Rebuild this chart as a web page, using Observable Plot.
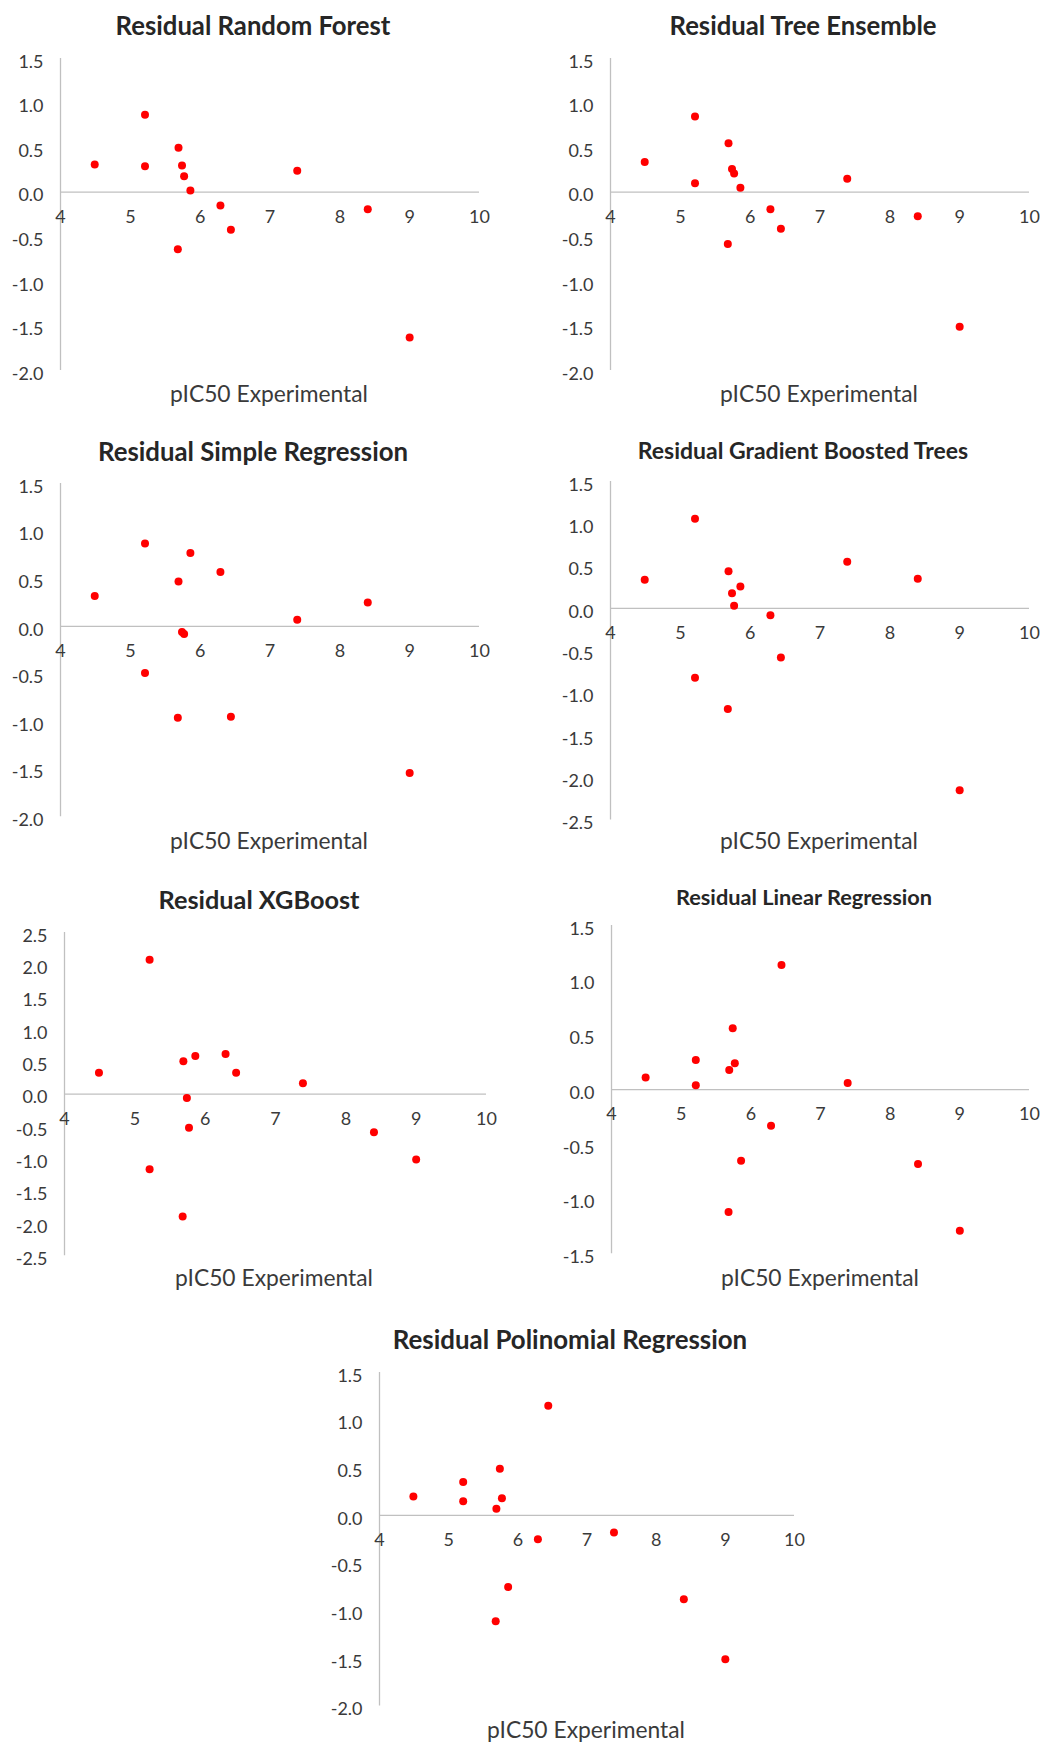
<!DOCTYPE html>
<html>
<head>
<meta charset="utf-8">
<script src="https://cdn.jsdelivr.net/npm/d3@7"></script>
<script src="https://cdn.jsdelivr.net/npm/@observablehq/plot@0.6"></script>
<style>
  html, body { margin: 0; padding: 0; background: #ffffff; }
  #chart { position: relative; width: 1041px; height: 1743px; overflow: hidden; font-family: Lato, sans-serif; background: #ffffff; }
  .title { position: absolute; font-weight: 700; color: #262626; white-space: nowrap; line-height: 1; transform: translate(-50%, -50%); }
  .xlabel { position: absolute; color: #3a3a3a; white-space: nowrap; line-height: 1; transform: translate(-50%, -50%); }
  .panel { position: absolute; }
</style>
</head>
<body>
<div id="chart"></div>
<script>
// ---------------- DATA ----------------
const pIC50 = [4.49, 5.21, 5.21, 5.68, 5.69, 5.74, 5.77, 5.86, 6.29, 6.44, 7.39, 8.40, 9.00];

const resRandomForest       = [0.31, 0.87, 0.29, -0.64, 0.50, 0.30, 0.18, 0.02, -0.15, -0.42, 0.24, -0.19, -1.63];
const resTreeEnsemble       = [0.34, 0.85, 0.10, -0.58, 0.55, 0.26, 0.21, 0.05, -0.19, -0.41, 0.15, -0.27, -1.51];
const resSimpleRegression   = [0.32, 0.87, -0.49, -0.96, 0.47, -0.06, -0.08, 0.77, 0.57, -0.95, 0.07, 0.25, -1.54];
const resGradientBoosted    = [0.34, 1.06, -0.82, -1.19, 0.44, 0.18, 0.03, 0.26, -0.08, -0.58, 0.55, 0.35, -2.15];
const resXGBoost            = [0.33, 2.08, -1.16, -1.89, 0.51, -0.06, -0.52, 0.59, 0.62, 0.33, 0.17, -0.59, -1.01];
const resLinearRegression   = [0.11, 0.27, 0.04, -1.12, 0.18, 0.56, 0.24, -0.65, -0.33, 1.14, 0.06, -0.68, -1.29];
const resPolinomialRegression = [0.20, 0.35, 0.15, -1.11, 0.07, 0.49, 0.18, -0.75, -0.25, 1.15, -0.18, -0.88, -1.51];

const titles = [
  "Residual Random Forest",
  "Residual Tree Ensemble",
  "Residual Simple Regression",
  "Residual Gradient Boosted Trees",
  "Residual XGBoost",
  "Residual Linear Regression",
  "Residual Polinomial Regression"
];
const xAxisTitle = "pIC50 Experimental";

const xTicks = [4, 5, 6, 7, 8, 9, 10];
const yTicksA = [-2, -1.5, -1, -0.5, 0, 0.5, 1, 1.5];
const yTicksB = [-2.5, -2, -1.5, -1, -0.5, 0, 0.5, 1, 1.5];
const yTicksC = [-2.5, -2, -1.5, -1, -0.5, 0, 0.5, 1, 1.5, 2, 2.5];
const yTicksD = [-1.5, -1, -0.5, 0, 0.5, 1, 1.5];

const series = [resRandomForest, resTreeEnsemble, resSimpleRegression, resGradientBoosted,
                resXGBoost, resLinearRegression, resPolinomialRegression];
const yTickSets = [yTicksA, yTicksA, yTicksA, yTicksB, yTicksC, yTicksD, yTicksA];

// ---------------- LAYOUT (pixels) ----------------
// L/R: frame left/right, Z: y of zero line, k: px per unit, title/xlab centers, tw: title ink width
const layout = [
  {L: 60,  R: 479,  Z: 191.7,  k: 89.14, title: [253, 26.2],   tw: 272.7, xlab: [269, 393]},
  {L: 610, R: 1029, Z: 191.7,  k: 89.14, title: [803, 26.2],   tw: 265.3, xlab: [819, 393]},
  {L: 60,  R: 479,  Z: 626.3,  k: 95.24, title: [253, 452],    tw: 306.7, xlab: [269, 840]},
  {L: 610, R: 1029, Z: 607.7,  k: 84.6,  title: [803, 450],    tw: 328.7, xlab: [819, 840]},
  {L: 64,  R: 486,  Z: 1094,   k: 64.67, title: [259, 899.5],  tw: 199,   xlab: [274, 1277]},
  {L: 611, R: 1029, Z: 1089.3, k: 109.4, title: [804, 897.5],  tw: 253.7, xlab: [820, 1277]},
  {L: 379, R: 794,  Z: 1515,   k: 95.3,  title: [570, 1340],   tw: 351,   xlab: [586, 1729]}
];

const FONT = "Lato";
const canvas = document.createElement("canvas");
const ctx = canvas.getContext("2d");
function inkWidth(text, weight, size) {
  ctx.font = `${weight} ${size}px ${FONT}`;
  const m = ctx.measureText(text);
  return m.actualBoundingBoxLeft + m.actualBoundingBoxRight;
}
function fit(text, weight, target) {
  return 100 * target / inkWidth(text, weight, 100);
}

const tickFont = fit("0.0", 400, 24);
const xlabFont = fit(xAxisTitle, 400, 195);

const chart = document.getElementById("chart");
const ML = 62, MR = 25, MT = 16, MB = 16;

series.forEach((ys, i) => {
  const lay = layout[i];
  const yTicks = yTickSets[i];
  const dom = [d3.min(yTicks), d3.max(yTicks)];
  const frameW = lay.R - lay.L;
  const frameH = (dom[1] - dom[0]) * lay.k;
  const T = lay.Z - dom[1] * lay.k;
  const data = pIC50.map((x, j) => ({x, y: ys[j]}));

  const svg = Plot.plot({
    width: frameW + ML + MR,
    height: frameH + MT + MB,
    marginLeft: ML, marginRight: MR, marginTop: MT, marginBottom: MB,
    x: {domain: [4, 10], axis: null},
    y: {domain: dom, axis: null},
    style: {background: "transparent", fontFamily: "Lato, sans-serif", fontSize: tickFont + "px", color: "#3a3a3a", overflow: "visible"},
    marks: [
      Plot.ruleX([4], {stroke: "#c0c0c0", strokeWidth: 1.3}),
      Plot.ruleY([0], {stroke: "#c0c0c0", strokeWidth: 1.3}),
      Plot.text(yTicks, {x: () => 4, y: d => d, dx: -17, dy: 3.5, textAnchor: "end", text: d => d.toFixed(1)}),
      Plot.text(xTicks, {x: d => d, y: () => 0, dy: 25, text: d => String(d)}),
      Plot.dot(data, {x: "x", y: "y", r: 4, fill: "#ff0000"})
    ]
  });
  svg.classList.add("panel");
  svg.style.left = (lay.L - ML) + "px";
  svg.style.top = (T - MT) + "px";
  chart.appendChild(svg);

  const t = document.createElement("div");
  t.className = "title";
  t.textContent = titles[i];
  t.style.fontSize = fit(titles[i], 700, lay.tw) + "px";
  t.style.left = lay.title[0] + "px";
  t.style.top = lay.title[1] + "px";
  chart.appendChild(t);

  const xl = document.createElement("div");
  xl.className = "xlabel";
  xl.textContent = xAxisTitle;
  xl.style.fontSize = xlabFont + "px";
  xl.style.left = lay.xlab[0] + "px";
  xl.style.top = lay.xlab[1] + "px";
  chart.appendChild(xl);
});
</script>
</body>
</html>
